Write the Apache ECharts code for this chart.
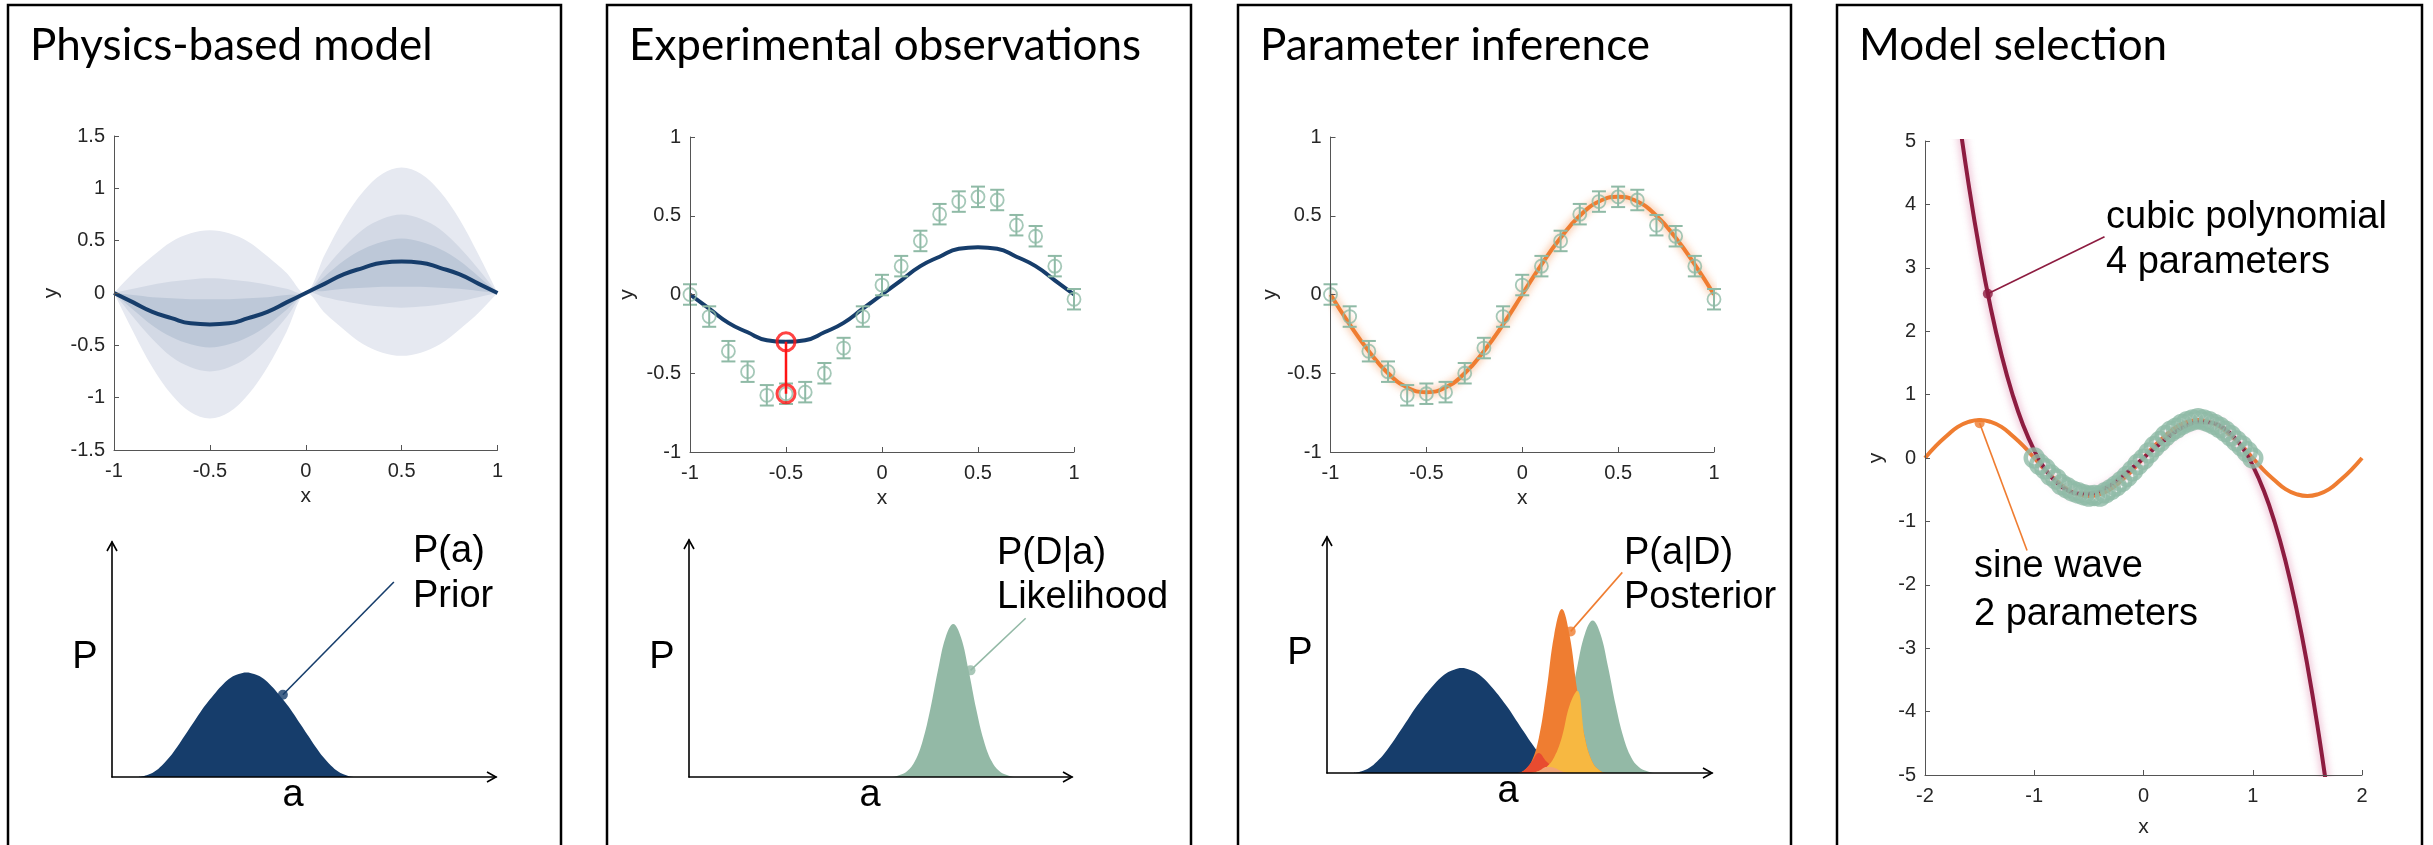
<!DOCTYPE html>
<html>
<head>
<meta charset="utf-8">
<title>Bayesian model calibration workflow</title>
<script src="https://cdn.jsdelivr.net/npm/echarts/dist/echarts.min.js"></script>
<style>
  html, body { margin: 0; padding: 0; background: #fff; }
  #main { width: 2433px; height: 845px; }
</style>
</head>
<body>
<div id="main"></div>
<script>
// ---------- data ----------
// shared x sampling of the unit-interval plots
const xGrid = [-1,-0.9,-0.8,-0.7,-0.6,-0.5,-0.4,-0.3,-0.2,-0.1,0,0.1,0.2,0.3,0.4,0.5,0.6,0.7,0.8,0.9,1];

// physics-based model: prior mean prediction and prior-predictive bands
const priorMean = [0,-0.09,-0.18,-0.24,-0.29,-0.3,-0.29,-0.24,-0.18,-0.09,0,0.09,0.18,0.24,0.29,0.3,0.29,0.24,0.18,0.09,0];
const outerHi = [0,0.19,0.35,0.49,0.57,0.6,0.57,0.49,0.35,0.19,0,0.37,0.71,0.97,1.14,1.2,1.14,0.97,0.71,0.37,0];
const outerLo = [0,-0.37,-0.71,-0.97,-1.14,-1.2,-1.14,-0.97,-0.71,-0.37,0,-0.19,-0.35,-0.49,-0.57,-0.6,-0.57,-0.49,-0.35,-0.19,0];
const midHi = [0,0.04,0.08,0.11,0.13,0.14,0.13,0.11,0.08,0.04,0,0.23,0.44,0.61,0.71,0.75,0.71,0.61,0.44,0.23,0];
const midLo = [0,-0.23,-0.44,-0.61,-0.71,-0.75,-0.71,-0.61,-0.44,-0.23,0,-0.04,-0.08,-0.11,-0.13,-0.14,-0.13,-0.11,-0.08,-0.04,0];
const innerHi = [0,-0.02,-0.04,-0.05,-0.06,-0.06,-0.06,-0.05,-0.04,-0.02,0,0.16,0.31,0.42,0.49,0.52,0.49,0.42,0.31,0.16,0];
const innerLo = [0,-0.16,-0.31,-0.42,-0.49,-0.52,-0.49,-0.42,-0.31,-0.16,0,0.02,0.04,0.05,0.06,0.06,0.06,0.05,0.04,0.02,0];

// experimental observations with error bars
const obsY = [0,-0.14,-0.36,-0.49,-0.64,-0.63,-0.62,-0.5,-0.34,-0.14,0.06,0.18,0.34,0.51,0.59,0.62,0.6,0.44,0.37,0.18,-0.03];
const obsErr = [0.065,0.065,0.065,0.065,0.065,0.065,0.065,0.065,0.065,0.065,0.065,0.065,0.065,0.065,0.065,0.065,0.065,0.065,0.065,0.065,0.065];

// calibrated model prediction
const fitY = [0,-0.19,-0.36,-0.5,-0.59,-0.62,-0.59,-0.5,-0.36,-0.19,0,0.19,0.36,0.5,0.59,0.62,0.59,0.5,0.36,0.19,0];

// parameter axis and the three densities
const aGrid = [0.7,0.9,1.1,1.3,1.5,1.7,1.9,2.1,2.3,2.5,2.7,2.9,3.1,3.3,3.5,3.7,3.9,4.1,4.3,4.5,4.7,4.9,5.1,5.3,5.5,5.7,5.9,6.1,6.3,6.5,6.7,6.9,7.1,7.3,7.5,7.7,7.9,8.1,8.3,8.5,8.7,8.9];
const priorDensity = [0,0.07,0.22,0.49,0.85,1.29,1.78,2.27,2.76,3.2,3.6,3.96,4.23,4.38,4.45,4.38,4.23,3.96,3.6,3.2,2.76,2.27,1.78,1.29,0.85,0.49,0.22,0.07,0,0,0,0,0,0,0,0,0,0,0,0,0,0];
const likelihoodDensity = [0,0,0,0,0,0,0,0,0,0,0,0,0,0,0,0,0,0,0,0,0,0,0,0,0.08,0.25,0.67,1.52,2.86,4.5,5.9,6.46,5.9,4.5,2.86,1.52,0.67,0.25,0.08,0,0,0];
const posteriorDensity = [0,0,0,0,0,0,0,0,0,0,0,0,0,0,0,0,0,0,0,0,0,0,0.09,0.44,1.47,3.48,5.85,6.95,5.85,3.48,1.47,0.44,0.09,0,0,0,0,0,0,0,0,0];

// model selection: wide x range, two competing fits and dense data
const xWide = [-2,-1.9,-1.8,-1.7,-1.6,-1.5,-1.4,-1.3,-1.2,-1.1,-1,-0.9,-0.8,-0.7,-0.6,-0.5,-0.4,-0.3,-0.2,-0.1,0,0.1,0.2,0.3,0.4,0.5,0.6,0.7,0.8,0.9,1,1.1,1.2,1.3,1.4,1.5,1.6,1.7,1.8,1.9,2];
const sineFit = [0,0.19,0.35,0.49,0.57,0.6,0.57,0.49,0.35,0.19,0,-0.19,-0.35,-0.49,-0.57,-0.6,-0.57,-0.49,-0.35,-0.19,0,0.19,0.35,0.49,0.57,0.6,0.57,0.49,0.35,0.19,0,-0.19,-0.35,-0.49,-0.57,-0.6,-0.57,-0.49,-0.35,-0.19,0];
const cubicX = [-1.8,-1.7,-1.6,-1.5,-1.4,-1.3,-1.2,-1.1,-1,-0.9,-0.8,-0.7,-0.6,-0.5,-0.4,-0.3,-0.2,-0.1,0,0.1,0.2,0.3,0.4,0.5,0.6,0.7,0.8,0.9,1,1.1,1.2,1.3,1.4,1.5,1.6,1.7,1.8];
const cubicFit = [6.87,5.5,4.31,3.27,2.38,1.63,1.01,0.51,0.12,-0.18,-0.38,-0.51,-0.56,-0.56,-0.51,-0.42,-0.29,-0.15,0,0.15,0.29,0.42,0.51,0.56,0.56,0.51,0.38,0.18,-0.12,-0.51,-1.01,-1.63,-2.38,-3.27,-4.31,-5.5,-6.87];
const denseX = [-1,-0.95,-0.9,-0.85,-0.8,-0.75,-0.7,-0.65,-0.6,-0.55,-0.5,-0.45,-0.4,-0.35,-0.3,-0.25,-0.2,-0.15,-0.1,-0.05,0,0.05,0.1,0.15,0.2,0.25,0.3,0.35,0.4,0.45,0.5,0.55,0.6,0.65,0.7,0.75,0.8,0.85,0.9,0.95,1];
const denseY = [0,-0.1,-0.17,-0.27,-0.33,-0.42,-0.47,-0.52,-0.55,-0.58,-0.6,-0.59,-0.6,-0.55,-0.5,-0.44,-0.37,-0.29,-0.2,-0.1,-0.02,0.08,0.18,0.26,0.35,0.42,0.47,0.53,0.57,0.6,0.62,0.6,0.57,0.53,0.48,0.42,0.35,0.27,0.19,0.1,0];

// callout anchors (data coordinates: marker on the curve, far end of the leader)
const calloutPrior = { dot: [4.45, 3.5], end: [7.34, 8.3] };
const calloutLikelihood = { dot: [7.35, 4.5], end: [8.79, 6.7] };
const calloutPosterior = { dot: [6.33, 6.0], end: [7.67, 8.5] };
const calloutCubic = { dot: [-1.425, 2.59], end: [-0.357, 3.49] };
const calloutSine = { dot: [-1.5, 0.55], end: [-1.066, -1.46] };

// ---------- styling ----------
const NAVY = '#163d6b', GREEN = '#8fbaa6', ORANGE = '#ef7d31', MAROON = '#8d1c40', RED = '#ff1414';
const BAND_OUT = '#e6e9f1', BAND_MID = '#d3d9e5', BAND_IN = '#bdc8d8';
const OVER_RED = '#e84b30', OVER_GOLD = '#f7b841', OVER_PEACH = '#f2a474';
const AXIS_GRAY = '#555555', TEXT_GRAY = '#262626';
const SANS = '"Liberation Sans", Arial, Helvetica, sans-serif';
const TITLE_FONT = '44px Lato, "Open Sans", sans-serif';
const LABEL_FONT = '38px "Liberation Sans", Arial, sans-serif';

// plot boxes: four upper plots, three parameter sketches
const boxes = [
  { left: 114, top: 136, width: 383.5, height: 314 },   // 0 physics model
  { left: 690, top: 137, width: 384, height: 315 },     // 1 observations
  { left: 1330.5, top: 137, width: 383.5, height: 315 },// 2 inference
  { left: 1925, top: 141, width: 437, height: 634 },    // 3 model selection
  { left: 112, top: 542, width: 384, height: 235 },     // 4 prior sketch
  { left: 689, top: 540, width: 383, height: 237 },     // 5 likelihood sketch
  { left: 1327, top: 537, width: 385, height: 236 }     // 6 posterior sketch
];
const panels = [
  { x: 8, w: 553, title: 'Physics-based model' },
  { x: 607, w: 584, title: 'Experimental observations' },
  { x: 1238, w: 553, title: 'Parameter inference' },
  { x: 1837, w: 585, title: 'Model selection' }
];

const pairs = (xs, ys) => xs.map((x, i) => [x, ys[i]]);
const minOf = (...arrs) => arrs[0].map((_, i) => Math.min(...arrs.map(a => a[i])));

function plotAxes(g, xr, yr, xStep, yStep, gapX, gapY) {
  const common = {
    gridIndex: g, type: 'value',
    axisLine: { show: true, onZero: false, lineStyle: { color: AXIS_GRAY, width: 1 } },
    axisTick: { show: true, inside: true, length: 5, lineStyle: { color: AXIS_GRAY, width: 1 } },
    axisLabel: { color: TEXT_GRAY, fontSize: 20, fontFamily: SANS, showMinLabel: true, showMaxLabel: true },
    splitLine: { show: false },
    nameLocation: 'middle',
    nameTextStyle: { color: TEXT_GRAY, fontSize: 21, fontFamily: SANS },
    z: 10
  };
  return {
    x: Object.assign({}, common, { min: xr[0], max: xr[1], interval: xStep, name: 'x', nameGap: gapX,
      axisLabel: Object.assign({}, common.axisLabel, { margin: 11 }) }),
    y: Object.assign({}, common, { min: yr[0], max: yr[1], interval: yStep, name: 'y', nameGap: gapY, nameRotate: 90,
      axisLabel: Object.assign({}, common.axisLabel, { margin: 9 }) })
  };
}
function sketchAxes(g) {
  const common = {
    gridIndex: g, type: 'value', min: 0, max: 10,
    axisLine: { show: true, onZero: false, lineStyle: { color: '#000', width: 1.6 } },
    axisTick: { show: false }, axisLabel: { show: false }, splitLine: { show: false }, z: 10
  };
  return { x: Object.assign({}, common), y: Object.assign({}, common) };
}

const axesList = [
  plotAxes(0, [-1, 1], [-1.5, 1.5], 0.5, 0.5, 36, 52),
  plotAxes(1, [-1, 1], [-1, 1], 0.5, 0.5, 36, 52),
  plotAxes(2, [-1, 1], [-1, 1], 0.5, 0.5, 36, 50),
  plotAxes(3, [-2, 2], [-5, 5], 1, 1, 42, 38),
  sketchAxes(4), sketchAxes(5), sketchAxes(6)
];

// ---------- series builders ----------
// filled band between two sampled edges, drawn through the axis scales
function band(lo, hi, color) {
  return {
    type: 'custom', xAxisIndex: 0, yAxisIndex: 0, silent: true, z: 1,
    data: [[xGrid[0], lo[0]]], encode: { x: 0, y: 1 },
    renderItem(params, api) {
      const upper = xGrid.map((x, i) => api.coord([x, hi[i]]));
      const lower = xGrid.map((x, i) => api.coord([x, lo[i]])).reverse();
      return { type: 'polygon', shape: { points: upper.concat(lower), smooth: 0.35 },
               style: { fill: color, stroke: null } };
    }
  };
}
function curve(g, xs, ys, color, width, glow, z) {
  return { type: 'line', xAxisIndex: g, yAxisIndex: g, data: pairs(xs, ys), smooth: true,
    showSymbol: false, silent: true, z: z || 3,
    lineStyle: Object.assign({ color, width }, glow ? { shadowBlur: 9, shadowColor: glow } : {}) };
}
function errorBars(g) {
  return {
    type: 'custom', xAxisIndex: g, yAxisIndex: g, silent: true, z: 4,
    data: xGrid.map((x, i) => [x, obsY[i], obsErr[i]]),
    encode: { x: 0, y: 1 },
    renderItem(params, api) {
      const x = api.value(0), y = api.value(1), e = api.value(2);
      const lo = api.coord([x, y - e]), hi = api.coord([x, y + e]);
      const cap = 7;
      const style = { stroke: GREEN, lineWidth: 2, fill: null };
      return { type: 'group', children: [
        { type: 'line', shape: { x1: lo[0], y1: lo[1], x2: hi[0], y2: hi[1] }, style },
        { type: 'line', shape: { x1: lo[0] - cap, y1: lo[1], x2: lo[0] + cap, y2: lo[1] }, style },
        { type: 'line', shape: { x1: hi[0] - cap, y1: hi[1], x2: hi[0] + cap, y2: hi[1] }, style }
      ]};
    }
  };
}
function markers(g, xs, ys, size, color, width, z) {
  return { type: 'scatter', xAxisIndex: g, yAxisIndex: g, data: pairs(xs, ys), symbol: 'circle',
    symbolSize: size, silent: true, z: z || 5,
    itemStyle: { color: 'rgba(255,255,255,0)', borderColor: color, borderWidth: width } };
}
function density(g, ys, color, z) {
  return { type: 'line', xAxisIndex: g, yAxisIndex: g, data: pairs(aGrid, ys), smooth: 0.4,
    showSymbol: false, silent: true, z, lineStyle: { width: 0 }, areaStyle: { color, opacity: 1 } };
}
function callout(g, c, color) {
  return [
    { type: 'line', xAxisIndex: g, yAxisIndex: g, data: [c.dot, c.end], showSymbol: false, silent: true,
      z: 7, lineStyle: { color, width: 1.6 } },
    { type: 'scatter', xAxisIndex: g, yAxisIndex: g, data: [c.dot], symbolSize: 10, silent: true, z: 8,
      itemStyle: { color } }
  ];
}

const series = [].concat(
  // physics-based model
  [band(outerLo, outerHi, BAND_OUT), band(midLo, midHi, BAND_MID), band(innerLo, innerHi, BAND_IN)],
  [curve(0, xGrid, priorMean, NAVY, 4)],
  // experimental observations
  [curve(1, xGrid, priorMean, NAVY, 4), errorBars(1), markers(1, xGrid, obsY, 13, GREEN, 1.8)],
  [{ type: 'line', xAxisIndex: 1, yAxisIndex: 1, data: [[xGrid[5], priorMean[5]], [xGrid[5], obsY[5]]],
     showSymbol: false, silent: true, z: 8, lineStyle: { color: RED, width: 2.5 } },
   markers(1, [xGrid[5], xGrid[5]], [priorMean[5], obsY[5]], 18, RED, 3, 9)],
  // parameter inference
  [curve(2, xGrid, fitY, ORANGE, 4, 'rgba(240,120,40,0.75)'), errorBars(2), markers(2, xGrid, obsY, 13, GREEN, 1.8)],
  // model selection
  [curve(3, xWide, sineFit, ORANGE, 4, null, 3),
   curve(3, cubicX, cubicFit, MAROON, 4, 'rgba(200,60,120,0.6)', 4),
   markers(3, denseX, denseY, 17, GREEN, 4.5, 5)],
  callout(3, calloutCubic, MAROON),
  callout(3, calloutSine, ORANGE),
  // prior sketch
  [density(4, priorDensity, NAVY, 2)],
  callout(4, calloutPrior, NAVY),
  // likelihood sketch
  [density(5, likelihoodDensity, '#93b9a6', 2)],
  callout(5, calloutLikelihood, '#93b9a6'),
  // posterior sketch
  [density(6, priorDensity, NAVY, 2),
   density(6, likelihoodDensity, '#93b9a6', 2),
   density(6, posteriorDensity, ORANGE, 2),
   density(6, minOf(priorDensity, posteriorDensity), OVER_RED, 3),
   density(6, minOf(likelihoodDensity, posteriorDensity), OVER_GOLD, 3),
   density(6, minOf(priorDensity, likelihoodDensity, posteriorDensity), OVER_PEACH, 3)],
  callout(6, calloutPosterior, ORANGE)
);

// ---------- frame, titles and annotations ----------
const graphic = [];
panels.forEach(p => {
  graphic.push({ type: 'rect', silent: true, z: 50,
    shape: { x: p.x, y: 5, width: p.w, height: 900 },
    style: { fill: null, stroke: '#000', lineWidth: 2.5 } });
  graphic.push({ type: 'text', silent: true, z: 60,
    style: { text: p.title, x: p.x + 22, y: 46, font: TITLE_FONT, fill: '#000',
             textAlign: 'left', textVerticalAlign: 'middle' } });
});
function label(text, x, y, align) {
  graphic.push({ type: 'text', silent: true, z: 60,
    style: { text, x, y, font: LABEL_FONT, fill: '#000', textAlign: align || 'left', textVerticalAlign: 'middle' } });
}
// arrowheads and P / a labels of the parameter sketches
[4, 5, 6].forEach(i => {
  const b = boxes[i], bottom = b.top + b.height, right = b.left + b.width;
  graphic.push({ type: 'polyline', silent: true, z: 55,
    shape: { points: [[b.left - 5, b.top + 9], [b.left, b.top], [b.left + 5, b.top + 9]] },
    style: { stroke: '#000', lineWidth: 1.6, fill: null } });
  graphic.push({ type: 'polyline', silent: true, z: 55,
    shape: { points: [[right - 9, bottom - 5], [right, bottom], [right - 9, bottom + 5]] },
    style: { stroke: '#000', lineWidth: 1.6, fill: null } });
  label('P', b.left - 27, bottom - 119, 'center');
  label('a', b.left + 181, bottom + 19, 'center');
});
label('P(a)', 413, 552); label('Prior', 413, 597);
label('P(D|a)', 997, 554); label('Likelihood', 997, 598);
label('P(a|D)', 1624, 554); label('Posterior', 1624, 598);
label('cubic polynomial', 2106, 218); label('4 parameters', 2106, 263);
label('sine wave', 1974, 567); label('2 parameters', 1974, 615);

const option = {
  animation: false,
  backgroundColor: '#ffffff',
  textStyle: { fontFamily: SANS },
  grid: boxes.map(b => Object.assign({ containLabel: false }, b)),
  xAxis: axesList.map(a => a.x),
  yAxis: axesList.map(a => a.y),
  series,
  graphic
};

const chart = echarts.init(document.getElementById('main'), null, { renderer: 'canvas' });
chart.setOption(option);
</script>
</body>
</html>
